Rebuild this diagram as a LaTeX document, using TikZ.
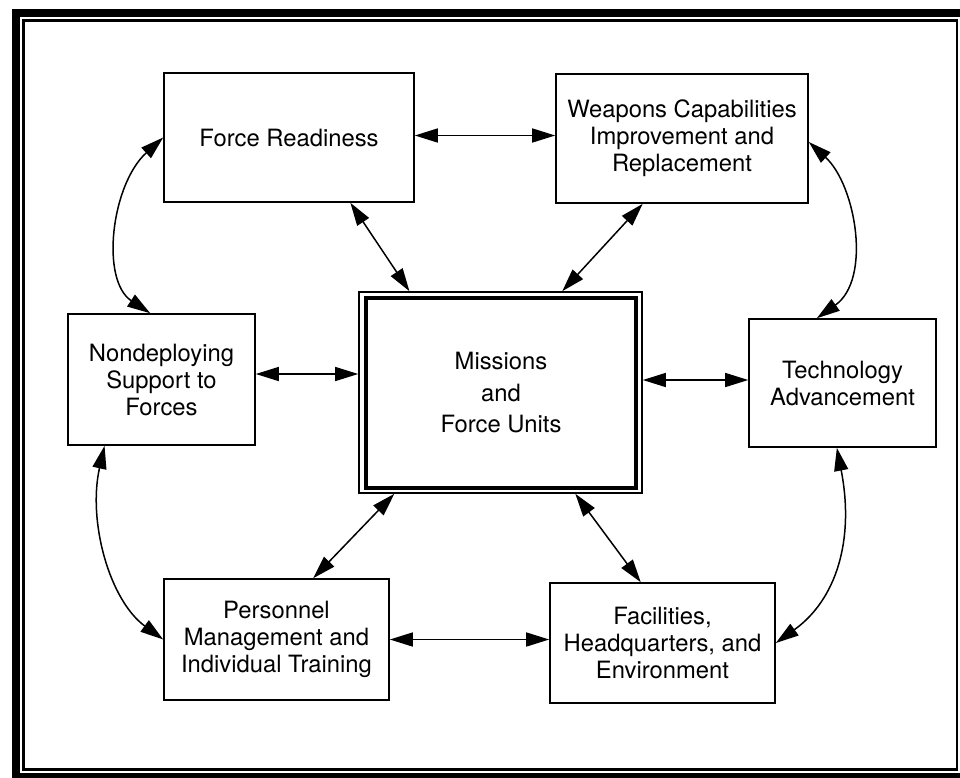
\documentclass[tikz,border=0pt]{standalone}
\usepackage{fontspec}
\setmainfont{TeX Gyre Heros}
\usetikzlibrary{arrows.meta,calc}
\tikzset{
  boxnode/.style={draw=black, line width=1.6pt, align=center, inner sep=0pt,
    font=\fontsize{23.8}{27}\selectfont},
  link/.style={{Triangle[length=23pt,width=14pt]}-{Triangle[length=23pt,width=14pt]}, line width=1.5pt},
}
\begin{document}
\begin{tikzpicture}[x=1pt,y=-1pt]
\useasboundingbox (0,0) rectangle (960,777);
\clip (0,0) rectangle (960,777);
% frame
\draw[line width=8pt] (15.5,12.5) rectangle (968,777);
\draw[line width=2.2pt] (23.5,20.5) rectangle (957,769.5);
% boxes
\node[boxnode, minimum width=250pt, minimum height=129pt] (fr) at (289,137.5) {Force Readiness};
\node[boxnode, minimum width=252pt, minimum height=129pt] (wc) at (682,138.5) {Weapons Capabilities\\Improvement and\\Replacement};
\node[boxnode, minimum width=187pt, minimum height=131pt] (nd) at (161.5,379.5) {Nondeploying\\Support to\\Forces};
\node[draw=black, line width=1.6pt, minimum width=283pt, minimum height=201pt, inner sep=0pt] (mf) at (500.5,392.5) {};
\node[draw=black, line width=3.2pt, minimum width=270pt, minimum height=190pt, inner sep=0pt, align=center,
  font=\fontsize{23.8}{31.5}\selectfont] (mfi) at (501,393) {Missions\\and\\Force Units};
\node[boxnode, minimum width=187pt, minimum height=128pt] (ta) at (842.5,383) {Technology\\Advancement};
\node[boxnode, minimum width=225pt, minimum height=121pt] (pm) at (276.5,639.5) {Personnel\\Management and\\Individual Training};
\node[boxnode, minimum width=225pt, minimum height=120pt] (fh) at (662.5,643) {Facilities,\\Headquarters, and\\Environment};
% straight links
\draw[link] ([yshift=2pt]fr.east) -- ([yshift=2pt]fr.east -| wc.west);
\draw[link] ([yshift=5.5pt]nd.east) -- ([yshift=5.5pt]nd.east -| mf.west);
\draw[link] ([yshift=3pt]ta.west -| mf.east) -- ([yshift=3pt]ta.west);
\draw[link] (pm.east) -- (pm.east -| fh.west);
\draw[link] ($(fr.south west)!0.744!(fr.south east)$) -- ($(mf.north west)!0.18!(mf.north east)$);
\draw[link] ($(wc.south west)!0.345!(wc.south east)$) -- ($(mf.north west)!0.717!(mf.north east)$);
\draw[link] ($(mf.south west)!0.127!(mf.south east)$) -- ($(pm.north west)!0.662!(pm.north east)$);
\draw[link] ($(mf.south west)!0.763!(mf.south east)$) -- ($(fh.north west)!0.404!(fh.north east)$);
% curved links
\draw[link] (fr.west) .. controls +(-52,47) and +(-50,-33) .. ($(nd.north west)!0.44!(nd.north east)$);
\draw[link] ([yshift=-3.5pt]wc.east) .. controls +(47,43) and +(55,-39) .. ($(ta.north west)!0.364!(ta.north east)$);
\draw[link] ($(nd.south west)!0.198!(nd.south east)$) .. controls +(-17,75) and +(-54,-39.5) .. (pm.west);
\draw[link] ($(ta.south west)!0.47!(ta.south east)$) .. controls +(18,93) and +(60,-43) .. (fh.east);
\end{tikzpicture}
\end{document}
